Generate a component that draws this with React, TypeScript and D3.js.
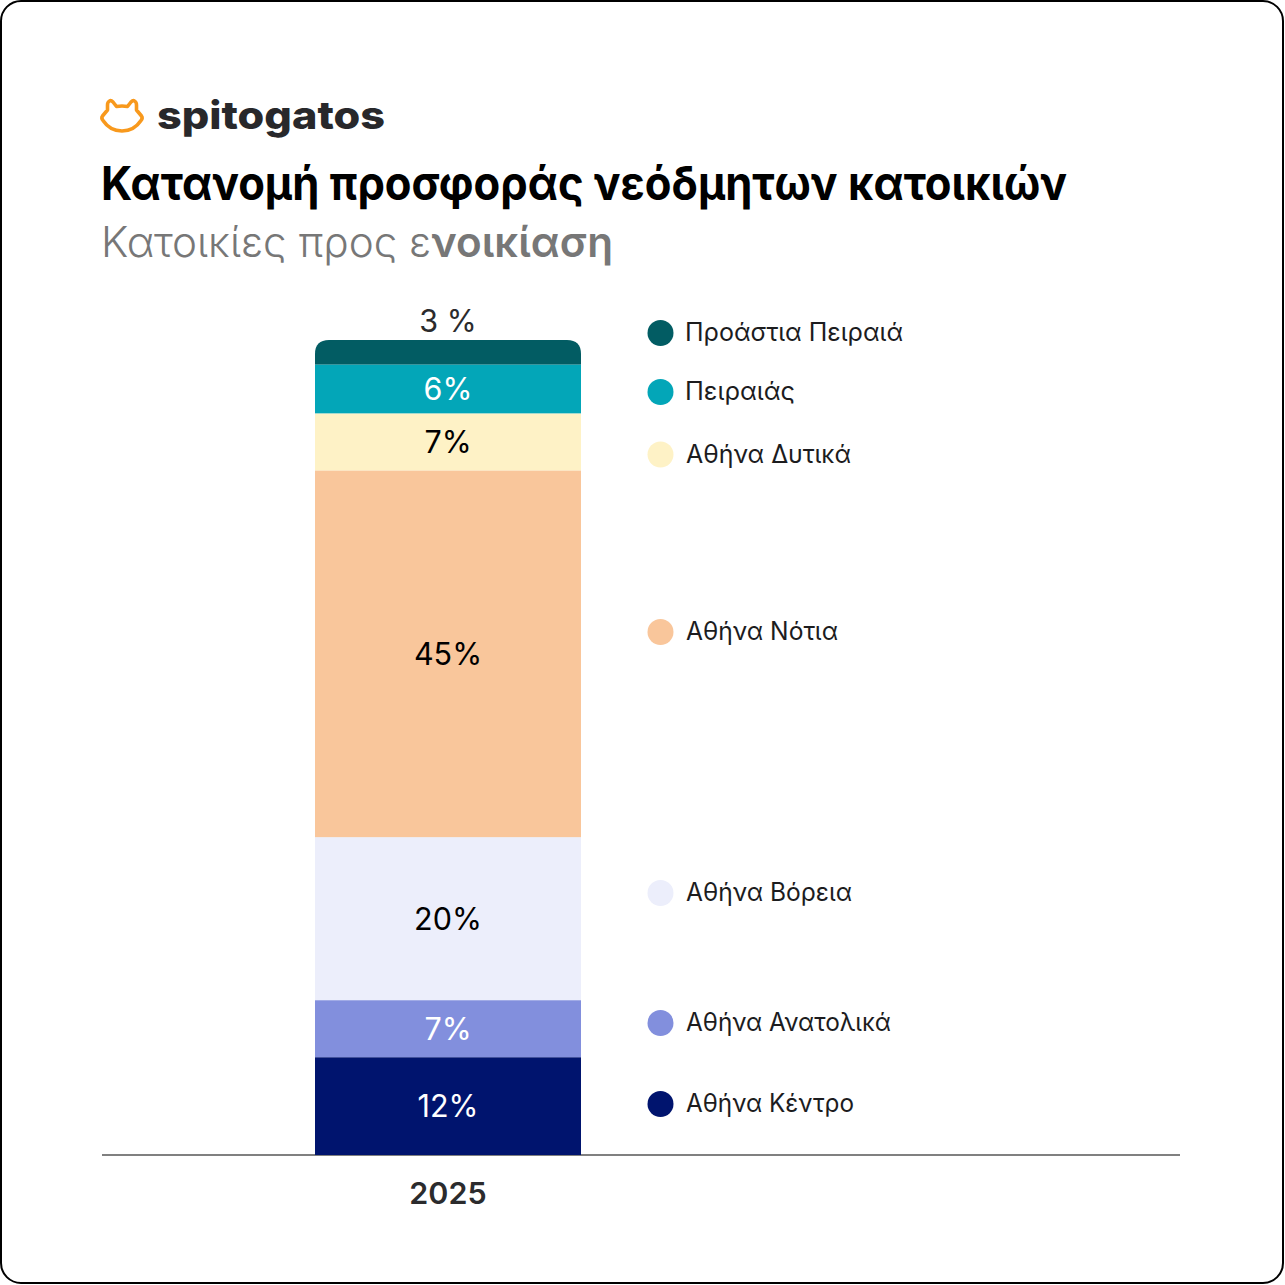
import React from "react";
import * as d3 from "d3";

const regions = ["Αθήνα Κέντρο", "Αθήνα Ανατολικά", "Αθήνα Βόρεια", "Αθήνα Νότια", "Αθήνα Δυτικά", "Πειραιάς", "Προάστια Πειραιά"];
const shares = [12, 7, 20, 45, 7, 6, 3];
const shareLabels = ["12%", "7%", "20%", "45%", "7%", "6%", "3 %"];
const colors = ["#00146e", "#828fdd", "#eceefb", "#f9c69b", "#fef2c6", "#03a6b8", "#025c63"];
const labelColors = ["#ffffff", "#ffffff", "#000000", "#000000", "#000000", "#ffffff", "#2b2b2d"];
const legendY = [1103.5, 1022.5, 892.5, 631.5, 454, 391.5, 332.5];
const legendTextX = [686, 686, 686, 686, 686, 685, 685];
const legendTextW = [168, 205, 166, 152, 165, 110, 218];
const labelCenterY = [1106, 1029, 919, 654, 442, 389, 321];
const years = ["2025"];
const title = "Κατανομή προσφοράς νεόδμητων κατοικιών";
const subtitleA = "Κατοικίες προς ε";
const subtitleB = "νοικίαση";

const FONT = "Inter, 'Noto Sans', sans-serif";

export default function App() {
  const y = d3.scaleLinear().domain([0, 100]).range([1155, 340]);
  const x = d3.scaleBand().domain(years).range([315, 581]);
  const stacked = d3.stack<number[]>().keys(regions.map((_, i) => String(i))).value((_, k) => shares[+k])([shares]);
  const bw = x.bandwidth();
  const x0 = x("2025")!;
  const cx = x0 + bw / 2;
  return (
    <svg width={1285} height={1285} style={{ position: "absolute", left: 0, top: 0, background: "#fff" }} fontFamily={FONT}>
      <rect x={1} y={1} width={1282} height={1282} rx={20} fill="#fff" stroke="#000" strokeWidth={2} />
      <path d="M109.5 101 Q111 100 113 102 L116.5 106.5 Q122 105.5 127.5 106.5 L131 102 Q133 100 134.5 101 Q136.5 102 136.5 105 L136.5 110 L141.5 116 Q143 118 141 120.5 Q134 131 122 131 Q110 131 103 120.5 Q101 118 102.5 116 L107.5 110 L107.5 105 Q107.5 102 109.5 101 Z"
        fill="none" stroke="#f8991d" strokeWidth={3.6} strokeLinejoin="round" />
      <text x={157} y={129} fontSize={39} fontWeight={800} fill="#28282b" textLength={228} lengthAdjust="spacingAndGlyphs">spitogatos</text>
      <text x={101} y={200} fontSize={47} fontWeight={650} fill="#000" textLength={966} lengthAdjust="spacingAndGlyphs">{title}</text>
      <text x={101} y={257} fontSize={42} fill="#777777" textLength={512} lengthAdjust="spacingAndGlyphs">
        <tspan fontWeight={300}>{subtitleA}</tspan>
        <tspan fontWeight={600}>{subtitleB}</tspan>
      </text>
      <line x1={102} x2={1180} y1={y(0)} y2={y(0)} stroke="#808080" strokeWidth={2} />
      {stacked.map((s, i) => {
        const top = y(s[0][1]);
        const bot = y(s[0][0]);
        if (i === regions.length - 1) {
          const r = 14;
          return <path key={i} fill={colors[i]} d={`M${x0} ${bot}V${top + r}Q${x0} ${top} ${x0 + r} ${top}H${x0 + bw - r}Q${x0 + bw} ${top} ${x0 + bw} ${top + r}V${bot}Z`} />;
        }
        return <rect key={i} x={x0} y={top} width={bw} height={bot - top} fill={colors[i]} />;
      })}
      {shareLabels.map((t, i) => (
        <text key={t + i} x={cx} y={labelCenterY[i]} dy="0.36em" textAnchor="middle" fontSize={30.5} fontWeight={400} fill={labelColors[i]}>{t}</text>
      ))}
      {regions.map((r, i) => (
        <g key={r}>
          <circle cx={660.5} cy={legendY[i] + 0.5} r={13} fill={colors[i]} />
          <text x={legendTextX[i]} y={legendY[i] + 0.5} dy="0.33em" fontSize={25} fill="#1c1c1e" textLength={legendTextW[i]} lengthAdjust="spacingAndGlyphs">{r}</text>
        </g>
      ))}
      {years.map((t) => (
        <text key={t} x={cx} y={1204} textAnchor="middle" fontSize={30.5} fontWeight={600} fill="#2b2b2d">{t}</text>
      ))}
    </svg>
  );
}
